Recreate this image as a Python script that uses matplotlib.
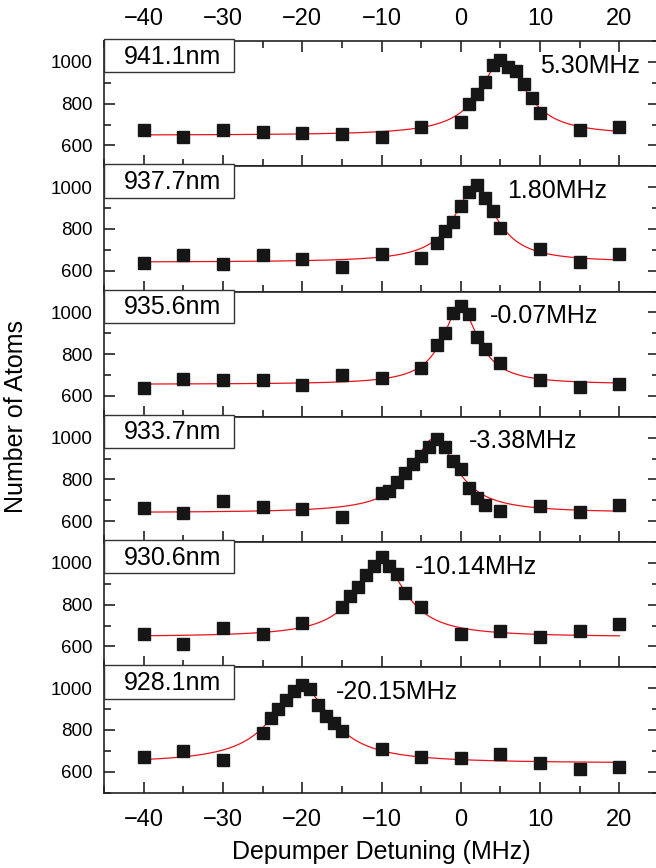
import numpy as np
import matplotlib
matplotlib.use("Agg")
import matplotlib.pyplot as plt
from matplotlib.patches import Rectangle
from matplotlib.ticker import MultipleLocator

plt.rcParams['font.family'] = ['Liberation Sans', 'DejaVu Sans']

# data
labels = ["941.1nm", "937.7nm", "935.6nm", "933.7nm", "930.6nm", "928.1nm"]
shifts = ["5.30MHz", "1.80MHz", "-0.07MHz", "-3.38MHz", "-10.14MHz", "-20.15MHz"]

x1 = [-40, -35, -30, -25, -20, -15, -10, -5, 0, 1, 2, 3, 4, 5, 6, 7, 8, 9, 10, 15, 20]
y1 = [673, 641, 673, 665, 660, 654, 638, 689, 710, 796, 844, 904, 984, 1011, 976, 955, 893, 828, 756, 673, 686]

x2 = [-40, -35, -30, -25, -20, -15, -10, -5, -3, -2, -1, 0, 1, 2, 3, 4, 5, 10, 15, 20]
y2 = [636, 675, 632, 675, 658, 616, 678, 660, 733, 792, 831, 909, 975, 1009, 947, 884, 803, 702, 639, 678]

x3 = [-40, -35, -30, -25, -20, -15, -10, -5, -3, -2, -1, 0, 1, 2, 3, 5, 10, 15, 20]
y3 = [636, 683, 678, 674, 651, 699, 686, 734, 844, 900, 998, 1029, 990, 884, 824, 757, 674, 644, 659]

x4 = [-40, -35, -30, -25, -20, -15, -10, -9, -8, -7, -6, -5, -4, -3, -2, -1, 0, 1, 2, 3, 5, 10, 15, 20]
y4 = [661, 640, 696, 669, 656, 621, 733, 744, 789, 829, 872, 914, 957, 994, 957, 888, 850, 760, 709, 677, 650, 674, 642, 677]

x5 = [-40, -35, -30, -25, -20, -15, -14, -13, -12, -11, -10, -9, -8, -7, -5, 0, 5, 10, 15, 20]
y5 = [657, 612, 689, 657, 713, 787, 843, 883, 943, 986, 1026, 983, 946, 856, 787, 660, 676, 646, 676, 705]

x6 = [-40, -35, -30, -25, -24, -23, -22, -21, -20, -19, -18, -17, -16, -15, -10, -5, 0, 5, 10, 15, 20]
y6 = [671, 698, 654, 783, 857, 900, 944, 987, 1013, 997, 921, 865, 833, 794, 710, 671, 667, 683, 643, 611, 624]

# Lorentzian fit parameters (center, FWHM, peak height, offset)
fit_center = [5.30, 1.80, -0.07, -3.38, -10.14, -20.15]
fit_width = [7.0, 6.5, 5.5, 7.0, 7.5, 9.0]
fit_height = [363, 360, 370, 355, 365, 368]
fit_offset = [648, 640, 655, 640, 645, 640]

xs = [x1, x2, x3, x4, x5, x6]
ys = [y1, y2, y3, y4, y5, y6]
text_x = [10.0, 5.8, 3.7, 1.0, -5.8, -15.8]

fig = plt.figure(figsize=(6.56, 8.68), dpi=100)

left, width = 104 / 656, 555 / 656
top, bottom = 1 - 41 / 868, 1 - 792.5 / 868
h = (top - bottom) / 6

xf = np.linspace(-40, 20, 400)
for i in range(6):
    ax = fig.add_axes([left, top - (i + 1) * h, width, h])
    g = fit_width[i] / 2
    yf = fit_offset[i] + fit_height[i] * g**2 / ((xf - fit_center[i])**2 + g**2)
    ax.plot(xf, yf, color='#e8141c', lw=0.9, zorder=2)
    ax.plot(xs[i], ys[i], 's', color='#161616', ms=8.3, zorder=3)

    ax.set_xlim(-45, 25)
    ax.set_ylim(500, 1100)
    ax.xaxis.set_major_locator(MultipleLocator(10))
    ax.xaxis.set_minor_locator(MultipleLocator(5))
    ax.set_yticks([600, 800, 1000])
    ax.yaxis.set_minor_locator(MultipleLocator(100))
    for s in ax.spines.values():
        s.set_linewidth(1.2)
        s.set_color('#222222')

    ax.tick_params(which='both', direction='in', width=1.2, color='#222222',
                   left=True, right=True, bottom=True, top=(i == 0),
                   labelbottom=(i == 5), labeltop=(i == 0))
    ax.tick_params(which='major', length=7.7)
    ax.tick_params(which='minor', length=4.8)
    ax.tick_params(axis='y', labelsize=13.5, pad=8)
    ax.tick_params(axis='x', labelsize=17)
    if i == 0:
        ax.tick_params(axis='x', pad=8)
    else:
        ax.tick_params(axis='x', pad=12)

    box = Rectangle((0, 0.75), 0.234, 0.265, transform=ax.transAxes,
                    facecolor='white', edgecolor='#333333', lw=1.0,
                    clip_on=False, zorder=5)
    ax.add_patch(box)
    ax.text(0.124, 0.875, labels[i], transform=ax.transAxes, fontsize=18,
            ha='center', va='center', zorder=6)
    ax.text(text_x[i], 982, shifts[i], fontsize=18, ha='left', va='center')

fig.text(0.025, (top + bottom) / 2, "Number of Atoms", rotation=90,
         fontsize=18, ha='center', va='center')
fig.text((104 + 659) / 2 / 656, 0.018, "Depumper Detuning (MHz)",
         fontsize=18, ha='center', va='center')

fig.savefig("out.png", dpi=100)
